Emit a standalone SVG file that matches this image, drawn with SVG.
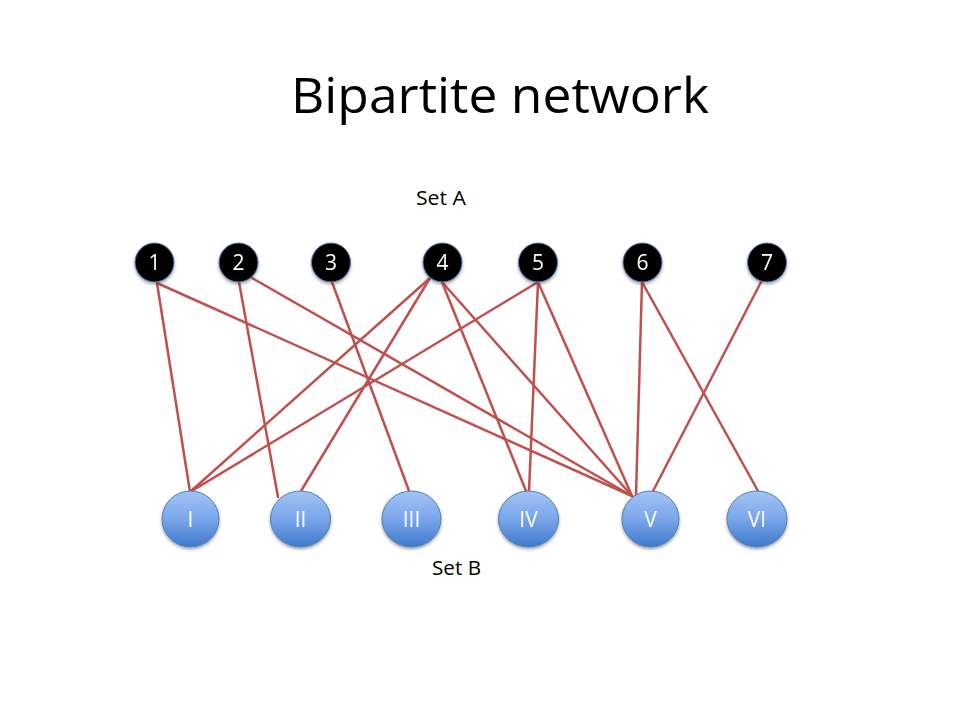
<svg xmlns="http://www.w3.org/2000/svg" width="960" height="720" viewBox="0 0 960 720">
<style>
.t{font-family:"Open Sans","Liberation Sans",sans-serif;fill:#000}
.a circle{fill:#000;stroke:#4f81bd;stroke-width:1}
.a text,.b text{font-family:"Open Sans","Liberation Sans",sans-serif;font-size:21px;fill:#fff;text-anchor:middle}
.b ellipse{fill:url(#g);stroke:#4a7ebb;stroke-width:1}
#edges line{stroke:#c0504d;stroke-width:2.5;stroke-linecap:round}
</style>
<defs>
<linearGradient id="g" x1="0" y1="0" x2="0" y2="1">
<stop offset="0" stop-color="#a3c4f5"/>
<stop offset="0.5" stop-color="#7aa6ea"/>
<stop offset="1" stop-color="#3f78c9"/>
</linearGradient>
<filter id="sh" x="-30%" y="-30%" width="160%" height="170%">
<feDropShadow dx="0" dy="2" stdDeviation="1.5" flood-color="#000" flood-opacity="0.35"/>
</filter>
</defs>
<rect width="960" height="720" fill="#fff"/>
<text class="t" x="500" y="113" font-size="50" text-anchor="middle" textLength="418" lengthAdjust="spacingAndGlyphs">Bipartite network</text>
<text class="t" x="441" y="205" font-size="20" text-anchor="middle" textLength="50" lengthAdjust="spacingAndGlyphs">Set A</text>
<text class="t" x="456.5" y="575" font-size="20" text-anchor="middle" textLength="49" lengthAdjust="spacingAndGlyphs">Set B</text>
<g id="edges">
<line x1="157" y1="283" x2="190" y2="492"/>
<line x1="157" y1="283" x2="632" y2="496"/>
<line x1="239" y1="282" x2="278" y2="497"/>
<line x1="252" y1="278" x2="632" y2="496"/>
<line x1="332" y1="282" x2="409" y2="491"/>
<line x1="430" y1="278" x2="190" y2="492"/>
<line x1="430" y1="278" x2="301" y2="491"/>
<line x1="442" y1="282" x2="526" y2="491"/>
<line x1="442" y1="282" x2="632" y2="496"/>
<line x1="538" y1="282" x2="190" y2="492"/>
<line x1="538" y1="282" x2="529" y2="491"/>
<line x1="538" y1="282" x2="632" y2="496"/>
<line x1="642" y1="282" x2="636" y2="495"/>
<line x1="642" y1="282" x2="758" y2="491"/>
<line x1="761" y1="282" x2="651" y2="495"/>
</g>
<g id="a1" class="a" filter="url(#sh)"><circle cx="154.5" cy="262.5" r="19.5"/><text x="154.5" y="270">1</text></g>
<g id="a2" class="a" filter="url(#sh)"><circle cx="238.5" cy="262.5" r="19.5"/><text x="238.5" y="270">2</text></g>
<g id="a3" class="a" filter="url(#sh)"><circle cx="331" cy="262.5" r="19.5"/><text x="331" y="270">3</text></g>
<g id="a4" class="a" filter="url(#sh)"><circle cx="442.5" cy="262.5" r="19.5"/><text x="442.5" y="270">4</text></g>
<g id="a5" class="a" filter="url(#sh)"><circle cx="538" cy="262.5" r="19.5"/><text x="538" y="270">5</text></g>
<g id="a6" class="a" filter="url(#sh)"><circle cx="642.5" cy="262.5" r="19.5"/><text x="642.5" y="270">6</text></g>
<g id="a7" class="a" filter="url(#sh)"><circle cx="767" cy="262.5" r="19.5"/><text x="767" y="270">7</text></g>
<g id="bI" class="b" filter="url(#sh)"><ellipse cx="190.5" cy="519" rx="28.5" ry="28"/><text x="190.5" y="527">I</text></g>
<g id="bII" class="b" filter="url(#sh)"><ellipse cx="300.5" cy="519" rx="30" ry="28"/><text x="300.5" y="527">II</text></g>
<g id="bIII" class="b" filter="url(#sh)"><ellipse cx="411.5" cy="519" rx="29.5" ry="28"/><text x="411.5" y="527">III</text></g>
<g id="bIV" class="b" filter="url(#sh)"><ellipse cx="528.5" cy="519" rx="30" ry="28"/><text x="528.5" y="527">IV</text></g>
<g id="bV" class="b" filter="url(#sh)"><ellipse cx="650.5" cy="519" rx="28.5" ry="28"/><text x="650.5" y="527">V</text></g>
<g id="bVI" class="b" filter="url(#sh)"><ellipse cx="757" cy="519" rx="30" ry="28"/><text x="757" y="527">VI</text></g>
</svg>
